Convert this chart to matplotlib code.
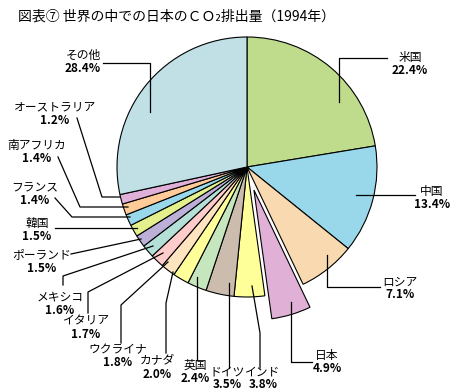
import matplotlib
matplotlib.use("Agg")
import matplotlib.pyplot as plt

plt.rcParams['font.family'] = ['Noto Sans CJK JP', 'DejaVu Sans']

countries = ["米国", "中国", "ロシア", "日本", "インド", "ドイツ", "英国", "カナダ",
             "ウクライナ", "イタリア", "メキシコ", "ポーランド", "韓国", "フランス",
             "南アフリカ", "オーストラリア", "その他"]
shares = [22.4, 13.4, 7.1, 4.9, 3.8, 3.5, 2.4, 2.0, 1.8, 1.7, 1.6, 1.5, 1.5, 1.4, 1.4, 1.2, 28.4]
colors = ["#BEDC8C", "#99D8EA", "#F8D9B0", "#E0B0D6", "#FFFF99", "#CBBCAE", "#C6E6BE",
          "#FFFF99", "#FFE4C0", "#FFCCCC", "#B4E0D8", "#BCB0D8", "#E4F08C", "#99D8EA",
          "#FFCC99", "#E0B0D8", "#C0E0E6"]
explode_px = [0, 0, 0, 24, 0, 0, 0, 0, 0, 0, 0, 0, 0, 0, 0, 0, 0]

# layout (pixel coordinates of the figure)
CX, CY, R = 247, 167, 130
label_pos = {
    "米国": (410, 58), "中国": (432, 191), "ロシア": (400, 282), "日本": (327, 355),
    "インド": (263, 372), "ドイツ": (227, 372), "英国": (195, 365), "カナダ": (157, 361),
    "ウクライナ": (118, 350), "イタリア": (86, 321), "メキシコ": (60, 297),
    "ポーランド": (42, 255), "韓国": (37, 223), "フランス": (35, 188),
    "南アフリカ": (37, 146), "オーストラリア": (55, 107), "その他": (83, 55),
}
leaders = {
    "米国": [(339, 102), (339, 58), (387, 58)],
    "中国": [(356, 195), (415, 195)],
    "ロシア": [(327, 255), (327, 287), (380, 287)],
    "日本": [(291, 302), (291, 362), (312, 362)],
    "インド": [(252, 286), (260, 333), (260, 368)],
    "ドイツ": [(229, 283), (229, 368)],
    "英国": [(197, 277), (197, 360)],
    "カナダ": [(173, 272), (166, 303), (166, 353)],
    "ウクライナ": [(168, 262), (121, 305), (121, 343)],
    "イタリア": [(163, 253), (88, 292), (88, 313)],
    "メキシコ": [(153, 246), (63, 276), (63, 285)],
    "ポーランド": [(141, 239), (71, 254)],
    "韓国": [(137, 228), (55, 228)],
    "フランス": [(130, 217), (72, 217), (55, 198)],
    "南アフリカ": [(128, 207), (80, 207), (58, 157)],
    "オーストラリア": [(120, 197), (102, 197), (77, 118)],
    "その他": [(150, 112), (150, 63), (103, 63)],
}

fig = plt.figure(figsize=(4.61, 3.91), dpi=100)
ax = fig.add_axes([0, 0, 1, 1])

ax.pie(shares, colors=colors, explode=explode_px, center=(CX, CY), radius=R,
       startangle=-90, counterclock=True,
       wedgeprops=dict(edgecolor="black", linewidth=0.8))

ax.set_xlim(0, 461)
ax.set_ylim(391, 0)
ax.set_aspect('auto')
ax.axis('off')

for name, val in zip(countries, shares):
    pts = leaders[name]
    ax.plot([p[0] for p in pts], [p[1] for p in pts], color="black", lw=0.9)
    x, y = label_pos[name]
    ax.text(x, y, name, ha="center", va="center", fontsize=8.5)
    ax.text(x, y + 13, f"{val:.1f}%", ha="center", va="center", fontsize=8.5,
            fontweight="bold")

fig.text(18 / 461, 1 - 17 / 391, "図表⑦ 世界の中での日本のＣＯ₂排出量（1994年）",
         ha="left", va="center", fontsize=10)

fig.savefig("out.png", dpi=100, facecolor="white")
